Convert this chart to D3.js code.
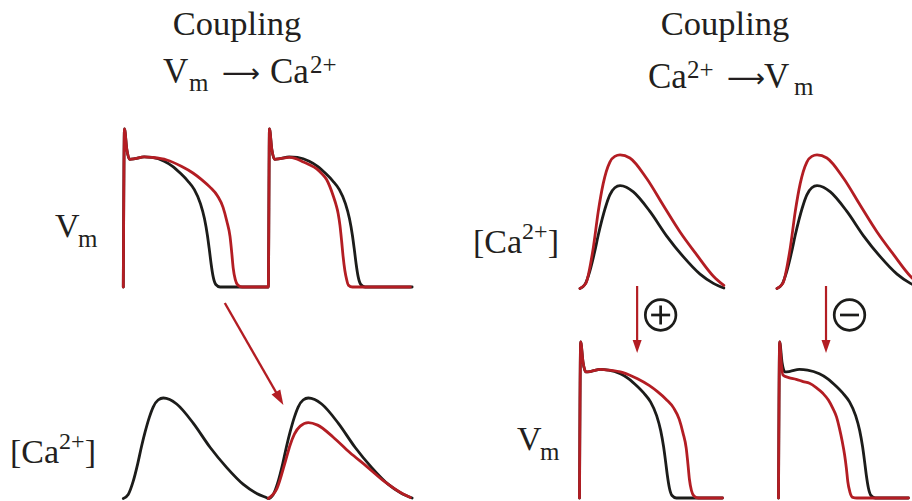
<!DOCTYPE html>
<html>
<head>
<meta charset="utf-8">
<script src="https://cdn.jsdelivr.net/npm/d3@7"></script>
<style>
  html, body { margin: 0; padding: 0; background: #fff; }
  svg { display: block; }
</style>
</head>
<body>
<svg id="fig" width="912" height="501"></svg>
<script>
// ---- Action potentials: [time from upstroke (ms), membrane potential (mV)] ----
const apControl = [[0,-85],[4,40],[12,24],[22,16],[40,16.5],[72,18],[100,17.5],[141,14.5],[170,10.5],[199,4.5],[222,-1],[245,-8],[266,-19],[280,-31],[290,-44],[297,-56],[303,-67],[310,-77],[319,-83],[334,-85]];
const apProlonged = [[0,-85],[4,40],[12,24],[22,16],[40,16.5],[72,18],[100,17.5],[150,15.5],[200,10.5],[240,5.2],[270,0],[299,-6],[325,-13],[344,-22],[357,-33],[368,-45],[374,-58],[379,-70],[386,-79],[395,-83.5],[410,-85]];
const apShortened = [[0,-85],[4,40],[12,24],[22,16],[40,16.5],[72,17.5],[95,16.5],[115,14.5],[140,12],[167,8.5],[185,4.5],[201,0],[213,-6],[224,-13],[233,-19.5],[241,-27],[247,-36],[253,-49],[258,-61],[264,-72],[270,-79],[276,-83.5],[290,-85]];
const apLowPlateau = [[0,-85],[4,40],[10,22],[15,13.6],[35,11.5],[61,10.1],[85,8.3],[107,6.9],[130,3.5],[153,-1.1],[172,-6.5],[187,-13],[200,-20],[210,-29],[220,-40],[228,-50.5],[234,-61],[239,-72],[246,-80],[256,-84.5],[270,-85]];

// ---- Ca2+ transients: [time from upstroke (ms), normalised [Ca2+]] ----
const caControl = [[0,0],[17,0.04],[34,0.17],[50,0.35],[63,0.52],[75,0.66],[90,0.81],[103,0.91],[120,0.98],[138,1.0],[160,0.985],[184,0.94],[241,0.75],[299,0.51],[356,0.31],[414,0.14],[460,0.05],[496,0.005]];
const caReduced = [[0,0],[30,0.1],[60,0.38],[75,0.53],[90,0.64],[110,0.72],[138,0.755],[170,0.73],[224,0.61],[280,0.46],[339,0.32],[400,0.17],[450,0.07],[490,0.01]];
const caEnhanced = [[0,0],[20,0.05],[46,0.4],[63,0.75],[80,1.02],[103,1.23],[120,1.285],[138,1.3],[172,1.27],[230,1.07],[287,0.81],[345,0.55],[402,0.33],[460,0.12],[496,0.03]];

const beatOnsets = [0, 500];      // ms, pacing at 2 Hz
const restingVm = -85;            // mV
const vmDomain = [-85, 40];
const caDomain = [0, 1];

const RED = "#b31d23";
const BLACK = "#1c1c1a";
const INK = "#231f20";
const SERIF = "'Liberation Serif','Times New Roman',Times,serif";
const PX_PER_MS = 0.29;

const svg = d3.select("#fig");

// Concatenate beats and optionally hold the resting level up to tEnd.
function train(waves, onsets, tEnd, rest) {
  const pts = [];
  waves.forEach((w, i) => w.forEach(([t, v]) => pts.push([onsets[i] + t, v])));
  if (tEnd != null) pts.push([tEnd, rest]);
  return pts;
}
function timeScale(x0, span) {
  return d3.scaleLinear().domain([0, span]).range([x0, x0 + span * PX_PER_MS]);
}
function trace(pts, xs, ys, color) {
  const gen = d3.line().x(d => xs(d[0])).y(d => ys(d[1])).curve(d3.curveMonotoneX);
  svg.append("path").attr("d", gen(pts))
    .attr("fill", "none").attr("stroke", color).attr("stroke-width", 2.8)
    .attr("stroke-linejoin", "round").attr("stroke-linecap", "round");
}

// ---- Left: Vm -> Ca2+ ----
const xLeft = timeScale(123.3, 1000);
const yVmLeft = d3.scaleLinear().domain(vmDomain).range([287, 129]);
const yCaLeft = d3.scaleLinear().domain(caDomain).range([498.5, 398]);

trace(train([apControl, apControl], beatOnsets, 996, restingVm), xLeft, yVmLeft, BLACK);
trace(train([apProlonged, apShortened], beatOnsets, 990, restingVm), xLeft, yVmLeft, RED);
trace(train([caControl, caControl], beatOnsets), xLeft, yCaLeft, BLACK);
trace(train([caReduced], [beatOnsets[1]]), xLeft, yCaLeft, RED);

// Diagonal arrow from the shortened AP to the smaller Ca2+ transient
(function () {
  const x1 = xLeft(350), y1 = yVmLeft(restingVm) + 16;
  const x2 = xLeft(552), y2 = yCaLeft(0.93);
  const ang = Math.atan2(y2 - y1, x2 - x1);
  const L = 15, W = 5;
  const bx = x2 - L * Math.cos(ang), by = y2 - L * Math.sin(ang);
  svg.append("line").attr("x1", x1).attr("y1", y1).attr("x2", bx + 2 * Math.cos(ang)).attr("y2", by + 2 * Math.sin(ang))
    .attr("stroke", RED).attr("stroke-width", 2.4);
  svg.append("path").attr("fill", RED).attr("d",
    `M${x2},${y2}L${bx - W * Math.sin(ang)},${by + W * Math.cos(ang)}L${bx + W * Math.sin(ang)},${by - W * Math.cos(ang)}Z`);
})();

// ---- Right: Ca2+ -> Vm ----
const rightOnsetsCa = [580, 777];
const rightOnsetsVm = [579.5, 778.5];
const yCaRight = d3.scaleLinear().domain(caDomain).range([288.5, 185.7]);
const yVmRight = d3.scaleLinear().domain(vmDomain).range([498, 342]);
const redVmRight = [apProlonged, apLowPlateau];
const vmEndRight = [493, 448];
const arrowTimes = [197, 169];
const signs = ["+", "-"];

rightOnsetsCa.forEach((x0, i) => {
  const xs = timeScale(x0, 500);
  trace(caControl, xs, yCaRight, BLACK);
  trace(caEnhanced, xs, yCaRight, RED);

  const xv = timeScale(rightOnsetsVm[i], 500);
  trace(train([apControl], [0], vmEndRight[i], restingVm), xv, yVmRight, BLACK);
  trace(train([redVmRight[i]], [0], vmEndRight[i], restingVm), xv, yVmRight, RED);

  // vertical coupling arrow
  const ax = xs(arrowTimes[i]);
  const top = 286, tip = 353;
  svg.append("line").attr("x1", ax).attr("x2", ax).attr("y1", top).attr("y2", tip - 11)
    .attr("stroke", RED).attr("stroke-width", 2.2);
  svg.append("path").attr("fill", RED).attr("d", `M${ax},${tip}L${ax - 4.5},${tip - 13}L${ax + 4.5},${tip - 13}Z`);

  // sign in a circle
  const cx = ax + 23.5, cy = 315, r = 15.3;
  const g = svg.append("g").attr("stroke", BLACK).attr("stroke-width", 2.7).attr("fill", "none");
  g.append("circle").attr("cx", cx).attr("cy", cy).attr("r", r);
  g.append("line").attr("x1", cx - 9.5).attr("x2", cx + 9.5).attr("y1", cy).attr("y2", cy);
  if (signs[i] === "+") g.append("line").attr("x1", cx).attr("x2", cx).attr("y1", cy - 9.5).attr("y2", cy + 9.5);
});

// ---- Text ----
function txt(x, y, s, size, extra) {
  const t = svg.append("text").attr("x", x).attr("y", y).text(s)
    .attr("font-family", SERIF).attr("font-size", size).attr("fill", INK);
  if (extra) extra(t);
  return t;
}
function longArrow(x, y, w) {
  svg.append("text").attr("x", x).attr("y", y).text("\u27F6")
    .attr("font-family", "'DejaVu Sans',sans-serif").attr("font-size", 26).attr("fill", INK)
    .attr("textLength", w).attr("lengthAdjust", "spacingAndGlyphs");
}

txt(237, 35, "Coupling", 34.5, t => t.attr("text-anchor", "middle"));
txt(725, 35, "Coupling", 34.5, t => t.attr("text-anchor", "middle"));

// V_m -> Ca2+
txt(163, 83.3, "V", 35);
txt(189, 91, "m", 25);
longArrow(222, 82, 38);
txt(270, 83.3, "Ca", 35);
txt(310, 73, "2+", 25);

// Ca2+ -> V_m
txt(648, 88.3, "Ca", 35);
txt(687, 78, "2+", 25);
longArrow(727, 87, 38);
txt(764, 88.3, "V", 35);
txt(794, 95, "m", 25);

// axis labels
function vmLabel(x, y) {
  txt(x, y, "V", 34);
  txt(x + 23, y + 10, "m", 25);
}
function caLabel(x, y) {
  const t = txt(x, y, "", 34);
  t.append("tspan").text("[Ca");
  t.append("tspan").attr("font-size", 24).attr("dy", -14).text("2+");
  t.append("tspan").attr("dy", 14).text("]");
}
vmLabel(55, 237);
vmLabel(517, 450);
caLabel(10, 463);
caLabel(473, 253);
</script>
</body>
</html>
